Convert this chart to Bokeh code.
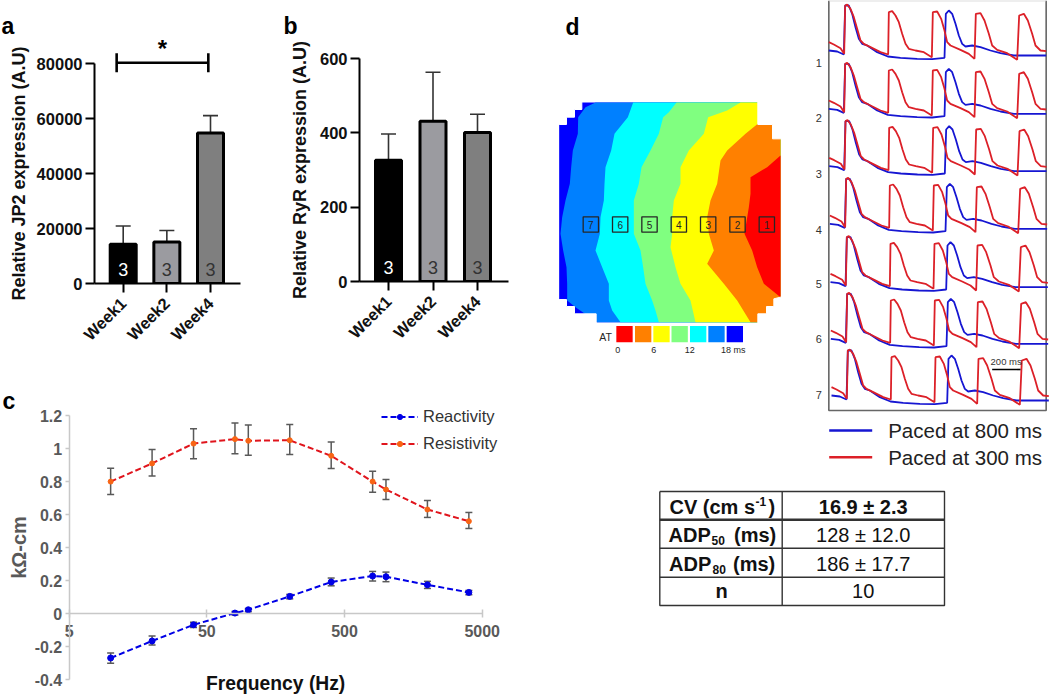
import math
from bokeh.plotting import figure
from bokeh.models import (Range1d, FixedTicker, Whisker, TeeHead, ColumnDataSource, Label, Legend,
                          LegendItem)
from bokeh.core.properties import value
from bokeh.embed import file_html
from bokeh.resources import INLINE

FONT = "Liberation Sans"

# ---- panels a / b
WEEKS = ["Week1", "Week2", "Week4"]
WEEK_POS = [1, 2, 3]
BAR_COLORS = ["#000000", "#9b9ba0", "#7f7f7f"]
N_COLORS = ["#ffffff", "#333333", "#333333"]
N_LABELS = ["3", "3", "3"]
JP2_MEAN = [14300, 15050, 54750]
JP2_UPPER = [20900, 19300, 61060]
JP2_TICKS = [0, 20000, 40000, 60000, 80000]
RYR_MEAN = [326, 431, 401]
RYR_UPPER = [397, 563, 450]
RYR_TICKS = [0, 200, 400, 600]
SIG_X = [0.85, 2.95]
SIG_Y = 80250

# ---- panel c
FREQ = [10, 20, 40, 80, 100, 200, 400, 800, 1000, 2000, 4000]
RES = [0.80, 0.91, 1.03, 1.057, 1.047, 1.05, 0.956, 0.80, 0.752, 0.631, 0.56]
RES_UP = [0.881, 0.994, 1.12, 1.154, 1.142, 1.146, 1.04, 0.863, 0.813, 0.686, 0.613]
RES_LO = [0.722, 0.833, 0.938, 0.968, 0.96, 0.964, 0.879, 0.736, 0.692, 0.583, 0.516]
REA = [-0.268, -0.165, -0.067, 0.004, 0.024, 0.105, 0.192, 0.228, 0.224, 0.175, 0.129]
REA_UP = [-0.238, -0.135, -0.052, 0.014, 0.032, 0.117, 0.216, 0.256, 0.252, 0.196, 0.141]
REA_LO = [-0.30, -0.19, -0.083, -0.008, 0.012, 0.09, 0.169, 0.198, 0.194, 0.153, 0.115]
C_XTICKS = [5, 50, 500, 5000]
C_YTICKS = [-0.4, -0.2, 0, 0.2, 0.4, 0.6, 0.8, 1, 1.2]
C_YLABELS = ["-0.4", "-0.2", "0", "0.2", "0.4", "0.6", "0.8", "1", "1.2"]

# ---- panel d activation map (contour lines, map coordinates)
MAP_COLORS = ["#ff0000", "#ff8000", "#ffff00", "#80ff80", "#00ffff", "#0080ff", "#0000ff"]
B1_X = [165, 135, 113, 112, 97, 92, 88, 75, 65, 60, 68, 78, 80, 80, 105, 170]
B1_Y = [306, 320, 350, 400, 450, 500, 550, 600, 650, 700, 750, 800, 850, 900, 920, 965]
B2_X = [278, 262, 222, 212, 195, 192, 190, 180, 178, 165, 185, 205, 205, 215, 240]
B2_Y = [306, 350, 400, 450, 500, 550, 600, 650, 700, 750, 800, 850, 900, 930, 965]
B3_X = [408, 385, 368, 355, 330, 303, 295, 280, 280, 280, 300, 308, 315, 335, 345, 355]
B3_Y = [306, 335, 350, 400, 450, 500, 550, 600, 650, 700, 750, 800, 850, 900, 930, 965]
B4_X = [600, 560, 503, 490, 445, 420, 420, 400, 395, 395, 390, 405, 420, 450, 465]
B4_Y = [306, 330, 350, 400, 450, 500, 550, 600, 650, 700, 740, 800, 850, 900, 965]
B5_X = [720, 680, 652, 615, 560, 540, 530, 510, 500, 505, 520, 500, 550, 590, 630]
B5_Y = [306, 350, 370, 400, 450, 480, 550, 600, 650, 700, 750, 790, 850, 900, 965]
B6_X = [720, 680, 630, 630, 625, 612, 635, 650, 670, 720]
B6_Y = [465, 500, 530, 580, 620, 700, 750, 800, 850, 890]
MAP_L, MAP_R, MAP_T, MAP_B = 56, 720, 306, 965
CORNER_TL_X = [50, 50, 124, 124, 102, 102, 78, 78, 56, 56]
CORNER_TL_Y = [372, 300, 300, 327, 327, 350, 350, 372, 372, 372]
CORNER_TR_X = [652, 726, 726, 696, 696, 652]
CORNER_TR_Y = [300, 300, 415, 415, 372, 372]
CORNER_BR_X = [726, 726, 652, 652, 678, 678, 700, 700, 720]
CORNER_BR_Y = [890, 971, 971, 940, 940, 918, 918, 895, 890]
CORNER_BL_X = [50, 56, 78, 78, 102, 102, 167, 167, 50]
CORNER_BL_Y = [897, 897, 897, 918, 918, 940, 940, 971, 971]
SITE_X = [679, 591, 503, 415, 327, 239, 151]
SITE_NUM = ["1", "2", "3", "4", "5", "6", "7"]
SITE_Y = 672
BAR_X = [252, 308, 363, 417.5, 473, 528, 583]
AT_TEXT = ["0", "6", "12", "18 ms"]
AT_X = [232, 340, 448, 578]

# ---- panel d optical traces
RED_T = [85, 100, 120, 131, 134, 140, 150, 160, 170, 180, 190, 210, 240, 263, 265, 275, 285, 295, 305, 315, 325,
         345, 370, 394, 397, 410, 422, 432, 440, 450, 480, 505, 522, 526, 540, 552, 565, 575, 590, 620, 650, 656,
         670, 682, 695, 705, 720, 737]
RED_V = [125, 132, 143, 160, 15, 12, 25, 50, 85, 120, 130, 140, 155, 162, 35, 32, 45, 65, 100, 130, 145,
         150, 155, 170, 35, 33, 55, 90, 125, 135, 148, 160, 175, 40, 38, 60, 100, 135, 148, 158, 178, 45,
         40, 60, 100, 135, 150, 152]
BLUE_T = [85, 110, 130, 134, 145, 155, 165, 175, 185, 200, 230, 262, 300, 350, 395, 432, 436, 445, 455, 465, 475,
          485, 495, 515, 540, 570, 600, 640, 680, 737]
BLUE_V = [150, 153, 162, 15, 15, 40, 80, 115, 130, 135, 155, 168, 172, 175, 176, 172, 40, 30, 40, 70, 105,
          130, 138, 135, 140, 150, 158, 165, 165, 165]
ROW_DX = [0, 0, 1, 3, 5, 6, 8]
ROW_DY = [0, 175, 347, 520, 695, 865, 1035]
ROW_NAMES = ["1", "2", "3", "4", "5", "6", "7"]
ROW_NAME_Y = [187, 353, 519, 687, 850, 1016, 1182]
SCALE_X = [575, 660]
SCALE_Y = 1107

# ---- table
TABLE_ROW_Y = [506, 534, 563, 590.7]
TABLE_RIGHT = ["16.9 \u00b1 2.3", "128 \u00b1 12.0", "186 \u00b1 17.7", "10"]
TABLE_RIGHT_STYLE = ["bold", "normal", "normal", "normal"]
MAIN_TEXT = ["CV (cm s", ")", "ADP", "(ms)", "ADP", "(ms)", "n"]
MAIN_X = [669, 768, 668, 733.5, 668.5, 732.5, 721]
MAIN_Y = [506, 506, 534, 534, 563, 563, 590.7]
MAIN_ALIGN = ["left", "left", "left", "left", "left", "left", "center"]
SMALL_TEXT = ["-1", "50", "80"]
SMALL_X = [755, 711, 712]
SMALL_Y = [501, 540, 569]


def place(fig, left, top):
    fig.styles = {"position": "absolute", "left": f"{left}px", "top": f"{top}px"}
    return fig


def blank(width, height, xr, yr, **kw):
    opts = dict(min_border_left=0, min_border_right=0, min_border_top=0, min_border_bottom=0)
    opts.update(kw)
    p = figure(width=width, height=height, output_backend="svg", toolbar_location=None,
               x_range=Range1d(*xr), y_range=Range1d(*yr), **opts)
    p.axis.visible = False
    p.grid.visible = False
    p.outline_line_color = None
    p.background_fill_color = None
    p.border_fill_color = None
    return p


def bar_panel(width, height, fl, fr, ft, fb, x0, step, means, uppers, ticks, ymax_axis, ylabel, standoff):
    p = figure(width=width, height=height, output_backend="svg", toolbar_location=None,
               x_range=Range1d(1 - (x0 - fl) / step, 3 + (fr - x0 - 2 * step) / step),
               y_range=Range1d(0, ymax_axis),
               min_border_left=fl, min_border_right=width - fr, min_border_top=ft, min_border_bottom=height - fb)
    p.grid.visible = False
    p.outline_line_color = None
    p.background_fill_color = None
    p.border_fill_color = None
    src = ColumnDataSource(dict(x=WEEK_POS, top=means, upper=uppers, color=BAR_COLORS, n=N_LABELS,
                                ncolor=N_COLORS, ny=[ymax_axis * 0.065] * 3))
    p.add_layout(Whisker(source=src, base="x", lower="top", upper="upper", line_color="#333333", line_width=1.6,
                         upper_head=TeeHead(size=15, line_color="#333333", line_width=1.6), lower_head=None))
    p.vbar(x="x", top="top", bottom=0, width=26 / step, source=src, fill_color="color", line_color="#000000", line_width=3)
    p.text(x="x", y="ny", text="n", source=src, text_color="ncolor", text_font=value(FONT), text_font_size="18px",
           text_align="center", text_baseline="middle")
    ya, xa = p.yaxis[0], p.xaxis[0]
    ya.ticker = FixedTicker(ticks=ticks)
    ya.axis_label = ylabel
    ya.axis_label_text_font = FONT
    ya.axis_label_text_font_size = "18px"
    ya.axis_label_text_font_style = "bold"
    ya.axis_label_text_color = "#111111"
    ya.axis_label_standoff = standoff
    ya.major_label_standoff = 3
    ya.formatter.use_scientific = False
    xa.ticker = FixedTicker(ticks=WEEK_POS)
    xa.major_label_overrides = {k: v for k, v in zip(WEEK_POS, WEEKS)}
    xa.major_label_orientation = math.pi / 4
    xa.major_label_standoff = 8
    for ax in (ya, xa):
        ax.axis_line_color = "#000000"
        ax.axis_line_width = 2
        ax.major_tick_line_color = "#000000"
        ax.major_tick_line_width = 2
        ax.major_tick_out = 9
        ax.major_tick_in = 0
        ax.minor_tick_line_color = None
        ax.major_label_text_font = FONT
        ax.major_label_text_font_size = "16.5px"
        ax.major_label_text_font_style = "bold"
        ax.major_label_text_color = "#111111"
    return p


pa = bar_panel(250, 370, 94, 240, 63, 283, 122.7, 43.65, JP2_MEAN, JP2_UPPER, JP2_TICKS, 80000,
               "Relative JP2 expression (A.U)", 5)
place(pa, 0, 0)

# significance bracket over panel a, on a copy of its scales
pa_sig = blank(250, 283, (1 - (122.7 - 94) / 43.65, 3 + (240 - 122.7 - 2 * 43.65) / 43.65), (0, 80000 * 283 / 220),
               min_border_left=94, min_border_right=10)
sig = ColumnDataSource(dict(y=[SIG_Y], lo=[SIG_X[0]], hi=[SIG_X[1]]))
pa_sig.add_layout(Whisker(source=sig, base="y", lower="lo", upper="hi", dimension="width", line_color="#000000",
                          line_width=2.6,
                          lower_head=TeeHead(size=19, line_color="#000000", line_width=2.6),
                          upper_head=TeeHead(size=19, line_color="#000000", line_width=2.6)))
pa_sig.text(x=[1.9], y=[85600], text=["*"], text_font=value(FONT), text_font_size="24px", text_font_style="bold",
            text_color="#000000", text_align="center", text_baseline="middle")
place(pa_sig, 0, 0)

pb = bar_panel(250, 370, 94, 243, 58, 281, 123, 44.5, RYR_MEAN, RYR_UPPER, RYR_TICKS, 600,
               "Relative RyR expression (A.U)", 7)
place(pb, 265, 0)

# ---- panel c : the frame fills the figure, so the axes sit inside it
C_W, C_H, C_L, C_R, C_T, C_B = 520, 294, 68.7, 481.7, 13, 277.3
lpp = 3 / (C_R - C_L)
ypp = 1.6 / (C_B - C_T)
pc = figure(width=C_W, height=C_H, output_backend="svg", toolbar_location=None, x_axis_type="log",
            x_range=Range1d(5 * 10 ** (-C_L * lpp), 5000 * 10 ** ((C_W - C_R) * lpp)),
            y_range=Range1d(-0.4 - (C_H - C_B) * ypp, 1.2 + C_T * ypp),
            min_border_left=0, min_border_right=0, min_border_top=0, min_border_bottom=0)
pc.grid.visible = False
pc.outline_line_color = None
pc.background_fill_color = None
pc.border_fill_color = None
GREY = "#c8c8c8"
TXT = "#595959"
xa, ya = pc.xaxis[0], pc.yaxis[0]
xa.fixed_location = 0
xa.bounds = (5, 5000)
xa.ticker = FixedTicker(ticks=C_XTICKS)
xa.major_label_overrides = {k: str(k) for k in C_XTICKS}
xa.major_tick_in = 4
xa.major_tick_out = 4
xa.major_label_standoff = 7
ya.fixed_location = 5
ya.bounds = (-0.4, 1.2)
ya.ticker = FixedTicker(ticks=C_YTICKS)
ya.major_label_overrides = {k: v for k, v in zip(C_YTICKS, C_YLABELS)}
ya.major_tick_in = 0
ya.major_tick_out = 4
ya.major_label_standoff = 3
ya.axis_label = "k\u03a9-cm"
ya.axis_label_text_font = FONT
ya.axis_label_text_font_size = "20px"
ya.axis_label_text_font_style = "bold"
ya.axis_label_text_color = TXT
ya.axis_label_standoff = 2
for ax in (xa, ya):
    ax.axis_line_color = GREY
    ax.axis_line_width = 1.5
    ax.major_tick_line_color = GREY
    ax.major_tick_line_width = 1.5
    ax.minor_tick_line_color = None
    ax.major_label_text_font = FONT
    ax.major_label_text_font_size = "16px"
    ax.major_label_text_font_style = "bold"
    ax.major_label_text_color = TXT
for up, lo in ((RES_UP, RES_LO), (REA_UP, REA_LO)):
    s = ColumnDataSource(dict(x=FREQ, up=up, lo=lo))
    pc.add_layout(Whisker(source=s, base="x", upper="up", lower="lo", line_color="#595959", line_width=1.5,
                          upper_head=TeeHead(size=7, line_color="#595959", line_width=1.5),
                          lower_head=TeeHead(size=7, line_color="#595959", line_width=1.5)))
l1 = pc.line(FREQ, REA, line_color="#0000e6", line_width=2, line_dash="6 3")
m1 = pc.scatter(FREQ, REA, size=6, fill_color="#0000e6", line_color="#0000e6")
l2 = pc.line(FREQ, RES, line_color="#e0141c", line_width=2, line_dash="6 3")
m2 = pc.scatter(FREQ, RES, size=5, fill_color="#f86414", line_color="#f86414")
leg = Legend(items=[LegendItem(label="Reactivity", renderers=[l1, m1]), LegendItem(label="Resistivity", renderers=[l2, m2])],
             location=(381, 243), orientation="vertical", background_fill_color=None, background_fill_alpha=0,
             border_line_color=None, padding=0, margin=0, spacing=7, glyph_width=37, glyph_height=13,
             label_height=20, label_standoff=5, label_text_font=FONT, label_text_font_size="16.5px",
             label_text_color="#333333", label_text_baseline="middle")
pc.add_layout(leg, "center")
pc.add_layout(Label(x=158, y=-0.424, text="Frequency (Hz)", text_font=FONT, text_font_size="19.3px",
                    text_font_style="bold", text_color="#111111", text_align="center", text_baseline="middle"))
place(pc, 0, 402)

# ---- panel letters
LETTERS = ["a", "b", "c"]
LETTER_X = [1, 283, 2]
LETTER_Y = [25, 25, 400]
ph = blank(520, 440, (0, 520), (440, 0))
ph.text(x=LETTER_X, y=LETTER_Y, text=LETTERS, text_font=value(FONT), text_font_size="23px", text_font_style="bold",
        text_color="#000000", text_align="left", text_baseline="alphabetic")
place(ph, 0, 0)

# ---- panel d map
pd = blank(262, 360, (0, 786), (1080, 0))
pd.text(x=[75], y=[78], text=["d"], text_font=value(FONT), text_font_size="23px", text_font_style="bold",
        text_color="#000000", text_align="left", text_baseline="alphabetic")
pd.patch([MAP_L, MAP_R, MAP_R, MAP_L], [MAP_T, MAP_T, MAP_B, MAP_B], fill_color=MAP_COLORS[6], line_color=None)
for bx, by, col in ((B1_X, B1_Y, MAP_COLORS[5]), (B2_X, B2_Y, MAP_COLORS[4]), (B3_X, B3_Y, MAP_COLORS[3]),
                    (B4_X, B4_Y, MAP_COLORS[2]), (B5_X, B5_Y, MAP_COLORS[1]), (B6_X, B6_Y, MAP_COLORS[0])):
    pd.patch(bx + [MAP_R, MAP_R], by + [by[-1], by[0]], fill_color=col, line_color=None)
for cx, cy in ((CORNER_TL_X, CORNER_TL_Y), (CORNER_TR_X, CORNER_TR_Y), (CORNER_BR_X, CORNER_BR_Y),
               (CORNER_BL_X, CORNER_BL_Y)):
    pd.patch(cx, cy, fill_color="#ffffff", line_color="#ffffff", line_width=1)
pd.rect(x=SITE_X, y=[SITE_Y] * 7, width=46, height=46, fill_color=None, line_color="#262626", line_width=1.3)
pd.text(x=SITE_X, y=[SITE_Y + 2] * 7, text=SITE_NUM, text_font=value(FONT), text_font_size="10px", text_color="#262626",
        text_align="center", text_baseline="middle")
pd.rect(x=BAR_X, y=[1001] * 7, width=49, height=49, fill_color=MAP_COLORS, line_color=None)
pd.text(x=[195], y=[1010], text=["AT"], text_font=value(FONT), text_font_size="10.5px", text_color="#262626",
        text_align="center", text_baseline="middle")
pd.text(x=AT_X, y=[1047] * 4, text=AT_TEXT, text_font=value(FONT), text_font_size="9px", text_color="#262626",
        text_align="center", text_baseline="middle")
place(pd, 540, 0)

# ---- panel d traces
pt = blank(250, 415, (0, 750), (1245, 0))
pt.line([85, 85, 737, 737], [0, 1230, 1230, 0], line_color="#666666", line_width=1.6)
pt.line([85, 737], [1, 1], line_color="#cccccc", line_width=1)
pt.multi_line([[t + d for t in BLUE_T] for d in ROW_DX], [[v + d for v in BLUE_V] for d in ROW_DY],
              line_color="#1616d2", line_width=1.8)
pt.multi_line([[t + d for t in RED_T] for d in ROW_DX], [[v + d for v in RED_V] for d in ROW_DY],
              line_color="#dc2028", line_width=1.8)
pt.text(x=[55] * 7, y=ROW_NAME_Y, text=ROW_NAMES, text_font=value(FONT), text_font_size="11px", text_color="#333333",
        text_align="center", text_baseline="middle")
pt.line(SCALE_X, [SCALE_Y, SCALE_Y], line_color="#000000", line_width=1.6)
pt.text(x=[617], y=[1083], text=["200 ms"], text_font=value(FONT), text_font_size="9.5px", text_color="#333333",
        text_align="center", text_baseline="middle")
place(pt, 800, 0)

# ---- legend + table
pe = blank(410, 205, (640, 1050), (620, 415))
LEG_TEXT = ["Paced at 800 ms", "Paced at 300 ms"]
LEG_COL = ["#1616d2", "#dc2028"]
LEG_Y = [430, 456.7]
for y, c in zip(LEG_Y, LEG_COL):
    pe.line([828.7, 871.7], [y, y], line_color=c, line_width=2.5)
pe.text(x=[887.7] * 2, y=LEG_Y, text=LEG_TEXT, text_font=value(FONT), text_font_size="20.5px", text_color="#222222",
        text_align="left", text_baseline="middle")
for ys, lw in (([519.3, 519.3], 2.4), ([547.7, 547.7], 1.4), ([576.7, 576.7], 1.4)):
    pe.line([659.3, 944], ys, line_color="#333333", line_width=lw)
pe.line([781.7, 781.7], [491, 605], line_color="#333333", line_width=1.4)
pe.line([659.3, 944, 944, 659.3, 659.3], [491, 491, 605, 605, 491], line_color="#333333", line_width=1.4)
pe.text(x=MAIN_X, y=MAIN_Y, text=MAIN_TEXT, text_font=value(FONT), text_font_size="20px",
        text_font_style="bold", text_color="#111111", text_align=MAIN_ALIGN, text_baseline="middle")
pe.text(x=SMALL_X, y=SMALL_Y, text=SMALL_TEXT, text_font=value(FONT), text_font_size="12px",
        text_font_style="bold", text_color="#111111", text_align="left", text_baseline="middle")
pe.text(x=[862.7] * 4, y=TABLE_ROW_Y, text=TABLE_RIGHT, text_font=value(FONT), text_font_size="20px",
        text_font_style=TABLE_RIGHT_STYLE, text_color="#111111", text_align="center", text_baseline="middle")
place(pe, 640, 415)

open("out.html", "w").write(file_html([pa, pa_sig, pb, pc, ph, pd, pt, pe], INLINE))
